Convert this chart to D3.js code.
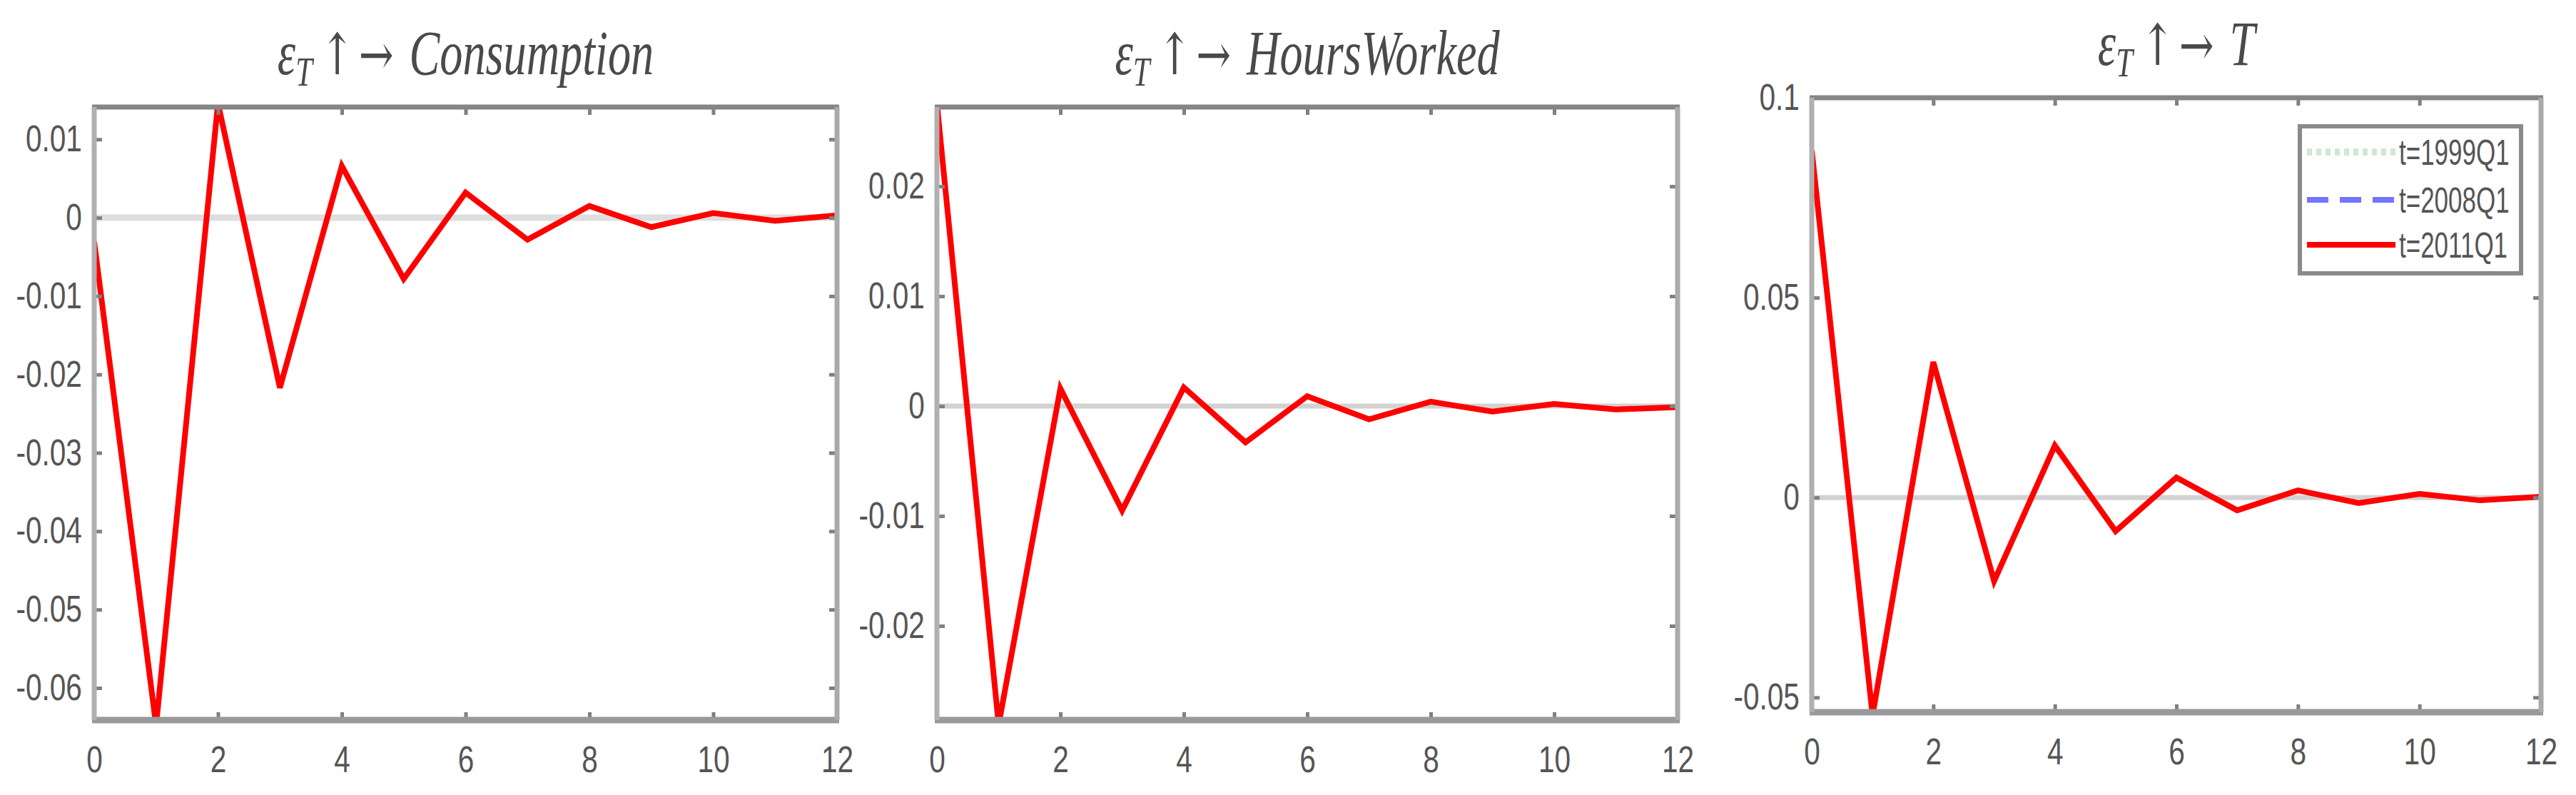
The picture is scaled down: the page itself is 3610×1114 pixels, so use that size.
<!DOCTYPE html>
<html><head><meta charset="utf-8">
<script src="https://cdn.jsdelivr.net/npm/d3@7"></script>
<style>body{margin:0;background:#fff}</style>
</head><body>
<svg id="chart" width="3610" height="1114"></svg>
<script>
// ---- data ----
const horizons = [0,1,2,3,4,5,6,7,8,9,10,11,12];
const consumption = [-0.0031, -0.0648, 0.0146, -0.0217, 0.0066, -0.0078, 0.0032, -0.0028, 0.0015, -0.0012, 0.0006, -0.0004, 0.0003];
const hoursWorked = [0.0275, -0.0290, 0.0016, -0.0095, 0.0017, -0.0033, 0.0009, -0.0012, 0.0004, -0.0005, 0.0002, -0.0003, -0.0001];
const transfers = [0.0868, -0.0545, 0.0339, -0.0209, 0.0130, -0.0084, 0.0050, -0.0032, 0.0018, -0.0014, 0.0009, -0.0007, 0.0002];
const xTickValues = [0,2,4,6,8,10,12];
const consumptionTicks = [0.01, 0, -0.01, -0.02, -0.03, -0.04, -0.05, -0.06];
const consumptionTickLabels = ["0.01","0","-0.01","-0.02","-0.03","-0.04","-0.05","-0.06"];
const hoursTicks = [0.02, 0.01, 0, -0.01, -0.02];
const hoursTickLabels = ["0.02","0.01","0","-0.01","-0.02"];
const transferTicks = [0.1, 0.05, 0, -0.05];
const transferTickLabels = ["0.1","0.05","0","-0.05"];
const panelTitles = ["Consumption", "HoursWorked", "T"];
const legendLabels = ["t=1999Q1", "t=2008Q1", "t=2011Q1"];

// ---- layout ----
const panels = [
  {title: panelTitles[0], data: consumption, domain: [-0.0641, 0.01412], ticks: consumptionTicks, labels: consumptionTickLabels, box: {l:132, r:1173, t:150, b:1009}},
  {title: panelTitles[1], data: hoursWorked, domain: [-0.02857, 0.02721], ticks: hoursTicks, labels: hoursTickLabels, box: {l:1313, r:2351, t:150, b:1009}},
  {title: panelTitles[2], data: transfers, domain: [-0.0537, 0.1], ticks: transferTicks, labels: transferTickLabels, box: {l:2539, r:3561, t:137, b:998}, legend: true}
];

const svg = d3.select("#chart");
const textColor = "#555";
const sx = 0.78;

panels.forEach((p, i) => {
  const {l, r, t, b} = p.box;
  const x = d3.scaleLinear().domain([0, 12]).range([l, r]);
  const y = d3.scaleLinear().domain(p.domain).range([b, t]);
  const g = svg.append("g");

  const clipId = "clip" + i;
  g.append("clipPath").attr("id", clipId)
    .append("rect").attr("x", l).attr("y", t).attr("width", r - l).attr("height", b - t);

  // zero line
  g.append("line")
    .attr("x1", x(0)).attr("x2", x(12)).attr("y1", y(0)).attr("y2", y(0))
    .attr("stroke", i === 0 ? "#dedede" : "#d2d2d2").attr("stroke-width", i === 0 ? 9 : 7);

  // series
  const line = d3.line().x((d, k) => x(horizons[k])).y(d => y(d));
  g.append("path").datum(p.data)
    .attr("clip-path", `url(#${clipId})`)
    .attr("d", line)
    .attr("fill", "none").attr("stroke", "#ff0000").attr("stroke-width", 8)
    .attr("stroke-linejoin", "miter");

  // axes (ticks + labels)
  const labelMap = new Map(p.ticks.map((v, k) => [v, p.labels[k]]));
  const yLeft = g.append("g").attr("transform", `translate(${l},0)`)
    .call(d3.axisLeft(y).tickValues(p.ticks).tickSize(-11).tickPadding(22).tickFormat(v => labelMap.get(v)));
  const yRight = g.append("g").attr("transform", `translate(${r},0)`)
    .call(d3.axisRight(y).tickValues(p.ticks).tickSize(-11).tickFormat(""));
  const xBottom = g.append("g").attr("transform", `translate(0,${b})`)
    .call(d3.axisBottom(x).tickValues(xTickValues).tickSize(-11).tickPadding(36).tickFormat(d3.format("d")));
  const xTop = g.append("g").attr("transform", `translate(0,${t})`)
    .call(d3.axisTop(x).tickValues(xTickValues).tickSize(-11).tickFormat(""));

  [yLeft, yRight, xBottom, xTop].forEach(a => {
    a.select(".domain").remove();
    a.selectAll(".tick line").attr("stroke", "#808080").attr("stroke-width", 5);
    a.selectAll(".tick text")
      .attr("fill", textColor)
      .style("font-family", "'Liberation Sans', Arial, sans-serif")
      .style("font-size", "52px");
  });
  yLeft.selectAll(".tick text").attr("transform", `scale(${sx},1)`);
  xBottom.selectAll(".tick text").attr("transform", `scale(${sx},1)`);

  // box
  g.append("line").attr("x1", l - 3).attr("x2", r + 3).attr("y1", t).attr("y2", t).attr("stroke", "#858585").attr("stroke-width", 7);
  g.append("line").attr("x1", l - 3).attr("x2", r + 3).attr("y1", b).attr("y2", b).attr("stroke", "#999").attr("stroke-width", 9);
  g.append("line").attr("x1", l).attr("x2", l).attr("y1", t).attr("y2", b).attr("stroke", "#b0b0b0").attr("stroke-width", 7);
  g.append("line").attr("x1", r).attr("x2", r).attr("y1", t).attr("y2", b).attr("stroke", "#aaaaaa").attr("stroke-width", 7);

  // title
  const cx = (l + r) / 2;
  const title = g.append("text")
    .attr("transform", `translate(${cx},${t - 46}) scale(0.73,1)`)
    .attr("text-anchor", "middle")
    .attr("fill", "#4a4a4a")
    .style("font-family", "'Liberation Serif', 'DejaVu Serif', serif")
    .style("font-size", "88px");
  title.append("tspan").style("font-style", "italic").text("ε");
  title.append("tspan").style("font-style", "italic").style("font-size", "58px").attr("dy", 16).text("T");
  title.append("tspan").attr("dy", -16).attr("dx", 14).style("font-family", "'DejaVu Serif', serif").style("font-size", "80px").text("↑");
  title.append("tspan").attr("dx", 8).style("font-family", "'DejaVu Serif', serif").style("font-size", "80px").text("→");
  title.append("tspan").attr("dx", 30).style("font-style", "italic").text(p.title);

  // legend
  if (p.legend) {
    const lx = r - 338, ly = t + 40, lw = 310, lh = 206;
    const lg = g.append("g");
    lg.append("rect").attr("x", lx).attr("y", ly).attr("width", lw).attr("height", lh)
      .attr("fill", "#fff").attr("stroke", "#8a8a8a").attr("stroke-width", 6);
    const styles = [
      {color: "#cfe8d5", width: 10, dash: "7,6"},
      {color: "#7474ff", width: 8, dash: "30,16"},
      {color: "#ff0000", width: 8, dash: null}
    ];
    const offsets = [36, 103, 166];
    legendLabels.forEach((lab, k) => {
      const yy = ly + offsets[k];
      const ln = lg.append("line").attr("x1", lx + 10).attr("x2", lx + 134).attr("y1", yy).attr("y2", yy)
        .attr("stroke", styles[k].color).attr("stroke-width", styles[k].width);
      if (styles[k].dash) ln.attr("stroke-dasharray", styles[k].dash);
      lg.append("text")
        .attr("transform", `translate(${lx + 139},${yy + 18}) scale(0.7,1)`)
        .attr("fill", textColor)
        .style("font-family", "'Liberation Sans', Arial, sans-serif")
        .style("font-size", "50px")
        .text(lab);
    });
  }
});
</script>
</body></html>
